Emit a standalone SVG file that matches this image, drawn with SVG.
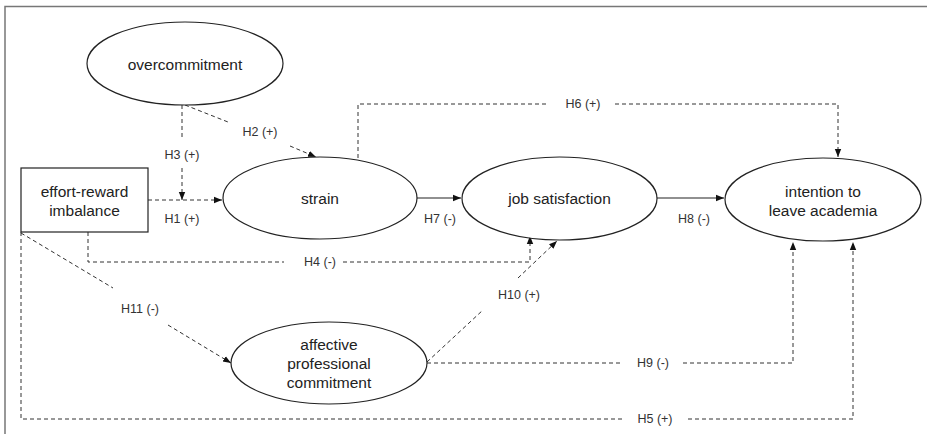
<svg xmlns="http://www.w3.org/2000/svg" width="927" height="434" viewBox="0 0 927 434">
<defs>
<style>
.node{fill:#fff;stroke:#222;stroke-width:1.2}
.nt{font-family:"Liberation Sans",Arial,sans-serif;font-size:15.5px;fill:#222;text-anchor:middle}
.lb{font-family:"Liberation Sans",Arial,sans-serif;font-size:12.5px;fill:#333;text-anchor:middle}
.d{fill:none;stroke:#333;stroke-width:1;stroke-dasharray:4 3}
.s{fill:none;stroke:#222;stroke-width:1.2}
.frame{fill:none;stroke:#777;stroke-width:1.5}
</style>
<marker id="ah" markerWidth="8" markerHeight="8" viewBox="0 0 8 8" refX="8" refY="4" orient="auto" markerUnits="userSpaceOnUse">
<path d="M0,0.8 L8,4 L0,7.2 Z" fill="#111"/>
</marker>
</defs>
<rect width="927" height="434" fill="#fff"/>
<path class="frame" d="M5,434 V6.5 H927"/>
<g id="connectors">
<path class="d" d="M148,200 H222" marker-end="url(#ah)"/>
<path class="d" d="M182,105 V138"/>
<path class="d" d="M182,168 V200" marker-end="url(#ah)"/>
<path class="d" d="M185,105 L228,122"/>
<path class="d" d="M290,146 L316,157" marker-end="url(#ah)"/>
<path class="d" d="M358,158 V104 H549"/>
<path class="d" d="M615,104 H838 V157" marker-end="url(#ah)"/>
<path class="s" d="M417,198 H461" marker-end="url(#ah)"/>
<path class="s" d="M657,198 L724,198" marker-end="url(#ah)"/>
<path class="d" d="M88,232 V262 H284"/>
<path class="d" d="M343,262 H530 V236" marker-end="url(#ah)"/>
<path class="d" d="M427,362 L483,310"/>
<path class="d" d="M518,278 L557,241" marker-end="url(#ah)"/>
<path class="d" d="M427,363 H623"/>
<path class="d" d="M683,363 H793 V242" marker-end="url(#ah)"/>
<path class="d" d="M21,232 V419 H625"/>
<path class="d" d="M688,419 H853 V242" marker-end="url(#ah)"/>
<path class="d" d="M21,233 L113,288"/>
<path class="d" d="M168,325 L231,363" marker-end="url(#ah)"/>
<text class="lb" x="182" y="159">H3 (+)</text>
<text class="lb" x="260" y="136">H2 (+)</text>
<text class="lb" x="182" y="223">H1 (+)</text>
<text class="lb" x="583" y="108">H6 (+)</text>
<text class="lb" x="440" y="223">H7 (-)</text>
<text class="lb" x="694" y="223">H8 (-)</text>
<text class="lb" x="320" y="266">H4 (-)</text>
<text class="lb" x="519" y="299">H10 (+)</text>
<text class="lb" x="653" y="367">H9 (-)</text>
<text class="lb" x="655" y="423">H5 (+)</text>
<text class="lb" x="140" y="313">H11 (-)</text>
</g>
<g id="overcommitment">
<ellipse class="node" cx="185" cy="63.5" rx="98" ry="41.5"/>
<text class="nt" x="185" y="70">overcommitment</text>
</g>
<g id="effort-reward">
<rect class="node" x="21" y="168" width="127" height="64"/>
<text class="nt" x="84.5" y="197">effort-reward</text>
<text class="nt" x="84.5" y="216">imbalance</text>
</g>
<g id="strain">
<ellipse class="node" cx="320" cy="198" rx="97" ry="41"/>
<text class="nt" x="320" y="204">strain</text>
</g>
<g id="job-satisfaction">
<ellipse class="node" cx="559.5" cy="198.5" rx="97.5" ry="41.5"/>
<text class="nt" x="559.5" y="204">job satisfaction</text>
</g>
<g id="intention">
<ellipse class="node" cx="823" cy="199.5" rx="98" ry="41.5"/>
<text class="nt" x="823" y="197">intention to</text>
<text class="nt" x="823" y="216">leave academia</text>
</g>
<g id="affective">
<ellipse class="node" cx="329" cy="363" rx="98" ry="41"/>
<text class="nt" x="329" y="350">affective</text>
<text class="nt" x="329" y="369">professional</text>
<text class="nt" x="329" y="388">commitment</text>
</g>
</svg>
